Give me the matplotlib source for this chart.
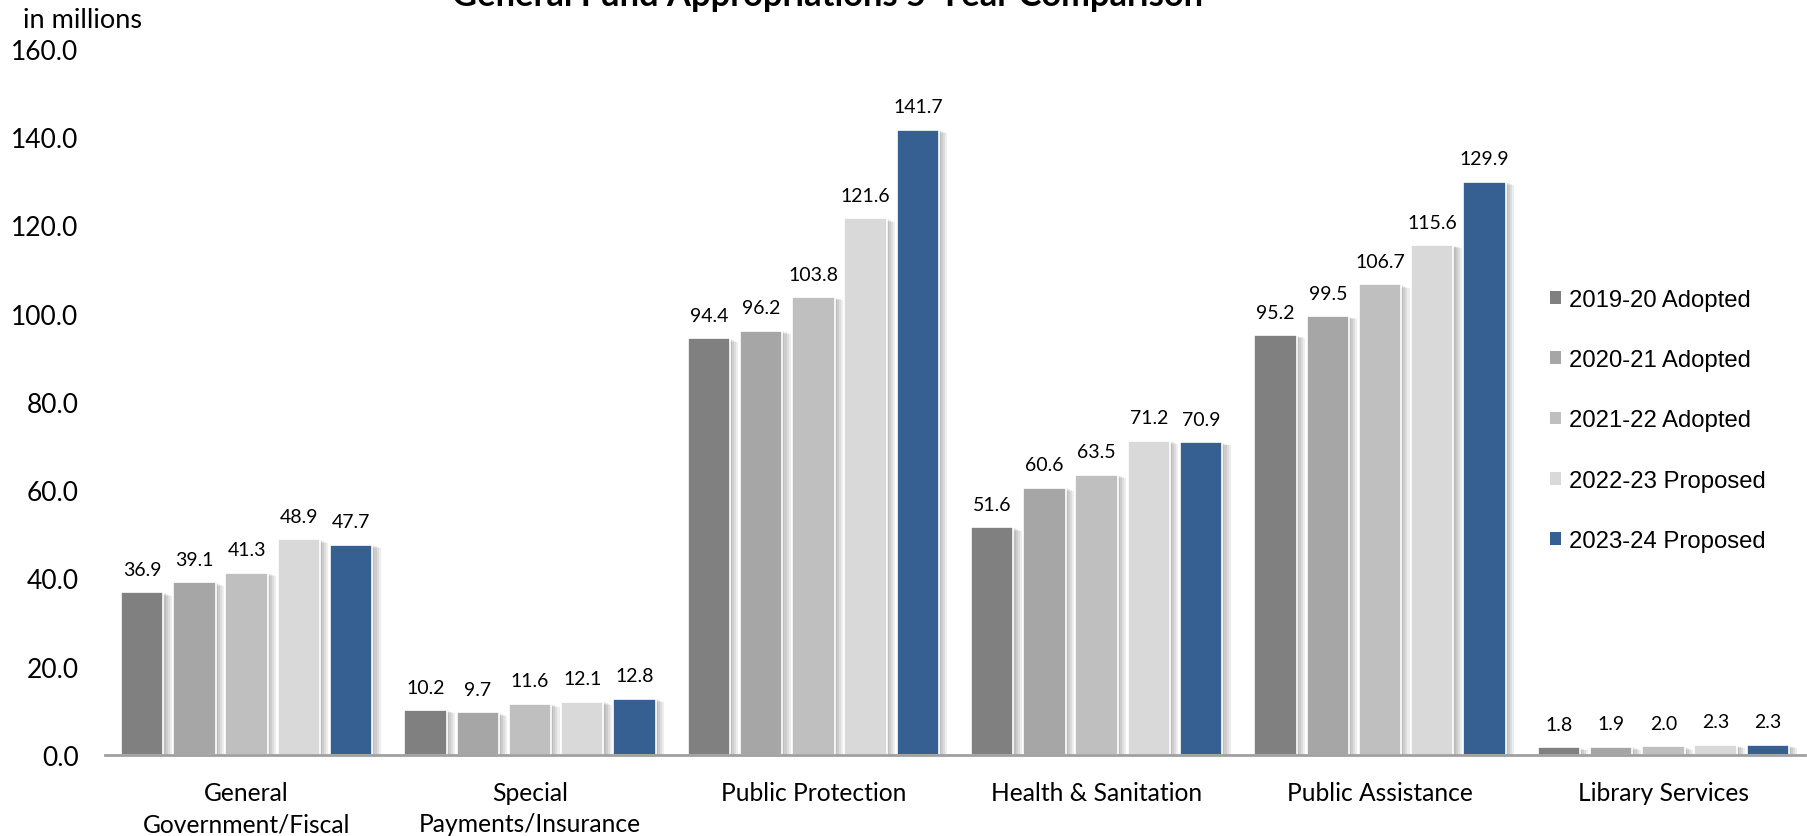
import matplotlib
matplotlib.use('Agg')
import matplotlib.pyplot as plt
import matplotlib.patheffects as pe
from matplotlib.patches import Patch
import numpy as np

# ---- data ----
categories = ["General\nGovernment/Fiscal", "Special\nPayments/Insurance", "Public Protection",
              "Health & Sanitation", "Public Assistance", "Library Services"]
series_names = ["2019-20 Adopted", "2020-21 Adopted", "2021-22 Adopted",
                "2022-23 Proposed", "2023-24 Proposed"]
fy2019_20 = [36.9, 10.2, 94.4, 51.6, 95.2, 1.8]
fy2020_21 = [39.1, 9.7, 96.2, 60.6, 99.5, 1.9]
fy2021_22 = [41.3, 11.6, 103.8, 63.5, 106.7, 2.0]
fy2022_23 = [48.9, 12.1, 121.6, 71.2, 115.6, 2.3]
fy2023_24 = [47.7, 12.8, 141.7, 70.9, 129.9, 2.3]
series_values = [fy2019_20, fy2020_21, fy2021_22, fy2022_23, fy2023_24]
yticks = [0, 20, 40, 60, 80, 100, 120, 140, 160]
title = "General Fund Appropriations 5-Year Comparison"
unit_label = "in millions"

colors = ['#808080', '#A6A6A6', '#BFBFBF', '#D9D9D9', '#376092']

W, H = 1808, 837
fig = plt.figure(figsize=(W / 100, H / 100), dpi=100)
ax = fig.add_axes([105 / W, 81 / H, 1700 / W, 706 / H])

main_font = 'Lato'
x = np.arange(len(categories))
slot = 0.1844
bw = 0.15
shadow = [pe.SimplePatchShadow(offset=(o, -o * 0.4), shadow_rgbFace='black', alpha=0.07)
          for o in (6.0, 4.5, 3.0, 1.5)] + [pe.Normal()]

for i, (vals, col) in enumerate(zip(series_values, colors)):
    pos = x + (i - 2) * slot
    bars = ax.bar(pos, vals, width=bw, color=col, edgecolor='white', linewidth=1.2,
                  label=series_names[i], zorder=3)
    for b in bars:
        b.set_path_effects(shadow)
    for px, v in zip(pos, vals):
        ax.annotate(f"{v:.1f}", xy=(px, v), xytext=(0, 12.5), textcoords='offset points',
                    ha='center', va='baseline', fontsize=14, family=main_font, color='black')

ax.set_xlim(-0.5, len(categories) - 0.5)
ax.set_ylim(0, 160)
ax.set_yticks(yticks)
ax.set_yticklabels([f"{t:.1f}" for t in yticks], family=main_font, fontsize=19)
ax.set_xticks(x)
ax.set_xticklabels(categories, family=main_font, fontsize=17.7, linespacing=1.42)
ax.tick_params(axis='y', length=0, pad=19)
ax.tick_params(axis='x', length=0, pad=19)
for s in ['top', 'left', 'right']:
    ax.spines[s].set_visible(False)
ax.spines['bottom'].set_color('#A0A0A0')
ax.spines['bottom'].set_linewidth(2)
ax.spines['bottom'].set_zorder(4)

handles = [Patch(facecolor=c, edgecolor='none') for c in colors]
leg = ax.legend(handles, series_names, loc='upper left',
                bbox_to_anchor=(1550 / W, 1 - 290 / H), bbox_transform=fig.transFigure,
                frameon=False, prop={'family': 'Liberation Sans', 'size': 17.2},
                handlelength=0.45, handleheight=0.45, handletextpad=0.35,
                labelspacing=1.6, borderpad=0, borderaxespad=0)

fig.text(828 / W, 1 - 6 / H, title, ha='center', va='baseline', fontsize=24.8,
         fontweight='bold', family=main_font)
fig.text(23 / W, 1 - 28 / H, unit_label, ha='left', va='baseline', fontsize=19.5,
         family=main_font)

fig.savefig('out.png', dpi=100, facecolor='white')
